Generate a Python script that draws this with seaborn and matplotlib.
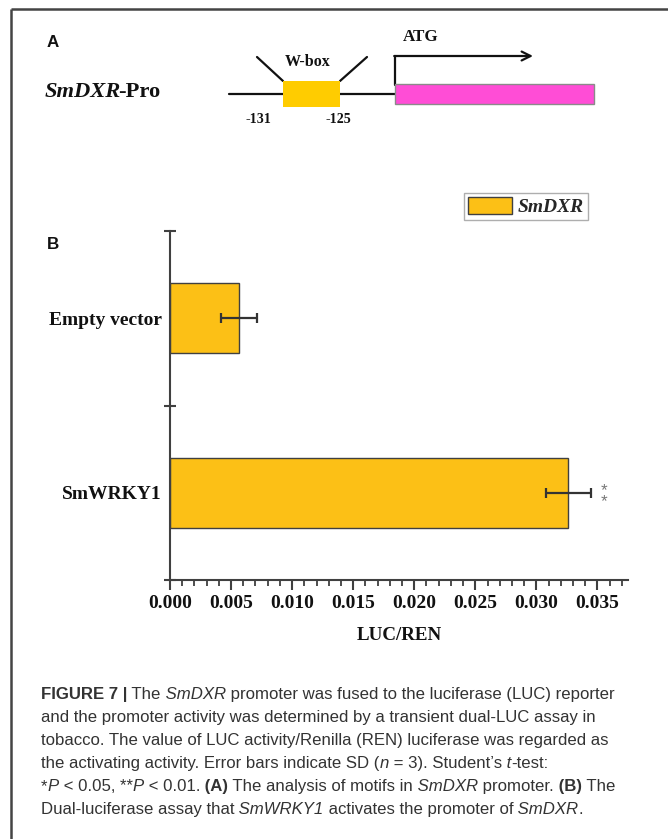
import matplotlib
matplotlib.use("Agg")
import matplotlib.pyplot as plt
from matplotlib.patches import Rectangle
from matplotlib.ticker import MultipleLocator
from matplotlib.font_manager import FontProperties
import seaborn as sns
import pandas as pd

# ---- data -------------------------------------------------------------
groups = ["Empty vector", "SmWRKY1"]
luc_ren = [0.00565, 0.0326]
luc_ren_sd = [0.00147, 0.00184]
significance = ["", "**"]
x_ticks = [0.000, 0.005, 0.010, 0.015, 0.020, 0.025, 0.030, 0.035]
x_tick_labels = ["0.000", "0.005", "0.010", "0.015", "0.020", "0.025", "0.030", "0.035"]
series_name = "SmDXR"

# ---- figure -----------------------------------------------------------
W, H, DPI = 668, 839, 100
PT = 72 / DPI  # pixels -> points

sns.set_theme(style="ticks")
plt.rcParams["font.family"] = ["Liberation Serif", "DejaVu Serif"]
plt.rcParams["axes.unicode_minus"] = False

fig = plt.figure(figsize=(W / DPI, H / DPI), dpi=DPI)
fig.patch.set_facecolor("white")

# pixel-space overlay for the promoter diagram, frame and caption
ov = fig.add_axes([0, 0, 1, 1], zorder=0)
ov.set_xlim(0, W)
ov.set_ylim(H, 0)
ov.axis("off")

frame_c = "#444444"
ov.plot([11, 11], [9, H], color=frame_c, lw=1.8, solid_capstyle="butt")
ov.plot([11, W], [9, 9], color=frame_c, lw=1.8, solid_capstyle="butt")

renderer = fig.canvas.get_renderer()


def rich_line(x, y, parts, size, family, color):
    """Draw a line of mixed-style text, advancing x piece by piece."""
    for part in parts:
        text, style = part[0], part[1]
        kern = part[2] if len(part) > 2 else 0
        t = ov.text(x, y, text, fontsize=size * PT, family=family, color=color,
                    fontweight="bold" if "b" in style else "normal",
                    fontstyle="italic" if "i" in style else "normal",
                    ha="left", va="baseline")
        x += t.get_window_extent(renderer).width + kern


# ---- panel A: promoter diagram ---------------------------------------
sans = ["Liberation Sans", "DejaVu Sans"]
serif = ["Liberation Serif", "DejaVu Serif"]
ink = "#111111"
ov.text(47, 47, "A", fontsize=17 * PT, family=sans, fontweight="bold",
        color=ink, ha="left", va="baseline")
rich_line(45, 97, [("SmDXR", "bi", -3), ("-Pro", "b")], 22.5, serif, ink)

ov.plot([229, 395], [94, 94], color=ink, lw=1.6)
ov.add_patch(Rectangle((283, 81), 57, 26, facecolor="#FFCC00", edgecolor="none", zorder=3))
ov.plot([257, 283], [57, 81], color=ink, lw=1.6)
ov.plot([367, 340], [57, 81], color=ink, lw=1.6)
ov.text(308, 66, "W-box", fontsize=16 * PT, family=serif, fontweight="bold",
        color=ink, ha="center", va="baseline")
ov.add_patch(Rectangle((395, 84), 199, 20, facecolor="#FF4DD6", edgecolor="#8a8a8a",
                       lw=1.0, zorder=3))
ov.plot([395, 395], [85, 56], color=ink, lw=1.6)
ov.annotate("", xy=(533, 56), xytext=(394.2, 56),
            arrowprops=dict(arrowstyle="->", lw=1.6, color=ink,
                            shrinkA=0, shrinkB=0, mutation_scale=16))
ov.text(421, 41, "ATG", fontsize=17 * PT, family=serif, fontweight="bold",
        color=ink, ha="center", va="baseline")
ov.text(258, 123, "-131", fontsize=14 * PT, family=serif, fontweight="bold",
        color=ink, ha="center", va="baseline")
ov.text(338, 123, "-125", fontsize=14 * PT, family=serif, fontweight="bold",
        color=ink, ha="center", va="baseline")

# ---- panel B: dual-luciferase bar chart -------------------------------
ov.text(47, 249, "B", fontsize=17 * PT, family=sans, fontweight="bold",
        color=ink, ha="left", va="baseline")

ax = fig.add_axes([170 / W, 1 - 580 / H, 458 / W, 349 / H], zorder=2)
ax.patch.set_alpha(0)
df = pd.DataFrame({"group": groups, "value": luc_ren})
bar_c = "#FCC016"
edge_c = "#404040"
sns.barplot(data=df, y="group", x="value", orient="h", color=bar_c, saturation=1,
            width=0.4, edgecolor=edge_c, linewidth=1.0, errorbar=None,
            label=series_name, ax=ax)
ax.errorbar(luc_ren, range(len(groups)), xerr=luc_ren_sd, fmt="none",
            ecolor="#333333", elinewidth=1.6, capsize=3.7, capthick=1.6, zorder=4)

# significance stars, stacked vertically to the right of the error bar
for i, (v, sd, mark) in enumerate(zip(luc_ren, luc_ren_sd, significance)):
    if mark:
        ax.annotate("\n".join(mark), xy=(v + sd, i), xytext=(9.5, -2.5),
                    textcoords="offset points", ha="center", va="center",
                    fontsize=17 * PT, color="#777777", family=sans,
                    linespacing=0.62)

ax.set_xlim(0, 0.0375)
ax.set_ylim(1.5, -0.5)
ax.set_xticks(x_ticks)
ax.set_xticklabels(x_tick_labels)
ax.xaxis.set_minor_locator(MultipleLocator(0.001))
ax.set_yticks(range(len(groups)))
ax.set_yticklabels(groups)
ax.set_yticks([-0.5, 0.5, 1.5], minor=True)

tick_font = FontProperties(family=serif, weight="bold", size=19.5 * PT)
for lab in ax.get_xticklabels() + ax.get_yticklabels():
    lab.set_fontproperties(tick_font)
    lab.set_color(ink)

ax.tick_params(axis="x", which="major", direction="out", length=7, width=1.5,
               color=edge_c, pad=4)
ax.tick_params(axis="x", which="minor", direction="out", length=4, width=1.3,
               color=edge_c)
ax.tick_params(axis="y", which="major", length=0, pad=6)
ax.tick_params(axis="y", which="minor", direction="inout", length=8, width=1.5,
               color=edge_c)
sns.despine(ax=ax)
for side in ("left", "bottom"):
    ax.spines[side].set_color(edge_c)
    ax.spines[side].set_linewidth(1.5)
ax.set_xlabel("")
ax.set_ylabel("")
ov.text(399, 640, "LUC/REN", fontsize=19 * PT, family=serif, fontweight="bold",
        color=ink, ha="center", va="baseline")

leg = ax.legend(loc="upper left", bbox_to_anchor=(464 / W, 1 - 193 / H),
                bbox_transform=fig.transFigure, borderaxespad=0, frameon=True,
                fancybox=False, handlelength=2.25, handleheight=0.95,
                borderpad=0.2, handletextpad=0.3,
                prop=FontProperties(family=serif, weight="bold", style="italic",
                                    size=19.5 * PT))
leg.get_frame().set_edgecolor("#9a9a9a")
leg.get_frame().set_linewidth(1.0)

# ---- caption ----------------------------------------------------------
cap_c = "#333333"
cap_size = 16.8
caption = [
    [("FIGURE 7 |", "b"), (" The", "r"), (" SmDXR", "i"),
     (" promoter was fused to the luciferase (LUC) reporter", "r")],
    [("and the promoter activity was determined by a transient dual-LUC assay in", "r")],
    [("tobacco. The value of LUC activity/Renilla (REN) luciferase was regarded as", "r")],
    [("the activating activity. Error bars indicate SD (", "r"), ("n", "i"),
     (" = 3). Student\u2019s", "r"), (" t", "i"), ("-test:", "r")],
    [("*", "r"), ("P", "i"), (" < 0.05, **", "r"), ("P", "i"), (" < 0.01.", "r"),
     (" (A)", "b"), (" The analysis of motifs in", "r"), (" SmDXR", "i"),
     (" promoter.", "r"), (" (B)", "b"), (" The", "r")],
    [("Dual-luciferase assay that", "r"), (" SmWRKY1", "i"),
     (" activates the promoter of", "r"), (" SmDXR", "i"), (".", "r")],
]
for k, parts in enumerate(caption):
    rich_line(41, 699 + 23 * k, parts, cap_size, sans, cap_c)

fig.savefig("out.png", dpi=DPI, facecolor="white")
